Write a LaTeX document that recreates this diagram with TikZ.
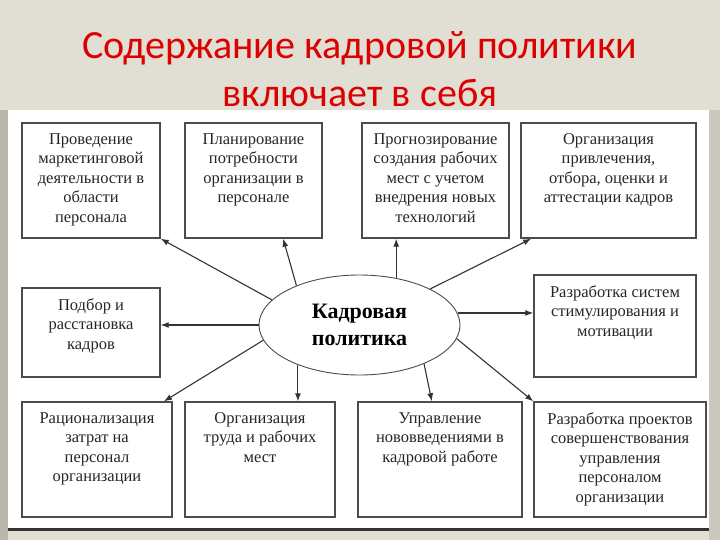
\documentclass[tikz,border=0pt]{standalone}
\usepackage{fontspec}
\setmainfont{Liberation Serif}
\newfontfamily\titlefont{Carlito}
\usetikzlibrary{positioning,shapes.geometric,shadows,arrows.meta}
\definecolor{slidebg}{RGB}{225,222,212}
\definecolor{slideedge}{RGB}{186,183,173}
\definecolor{titlered}{RGB}{220,0,0}
\begin{document}
\begin{tikzpicture}[x=1pt,y=-1pt,
        box/.style={draw=black!70, line width=1.4pt, fill=white,
            drop shadow={shadow xshift=1.2pt, shadow yshift=-1.2pt, opacity=.6}},
        boxtext/.style={align=center, inner sep=0pt, text=black!85,
            font=\fontsize{16.5}{19.5}\selectfont},
        ell/.style={ellipse, draw=black!70, line width=0.9pt, fill=white, inner sep=0pt,
            minimum width=201pt, minimum height=100pt, align=center,
            font=\bfseries\fontsize{22}{27}\selectfont},
        arr/.style={-{Latex[length=8pt,width=6pt]}, draw=black!80, line width=1.1pt}]
    \useasboundingbox (0,0) rectangle (720,540);
    \fill[slidebg] (0,0) rectangle (720,540);
    \fill[slideedge] (0,110) rectangle (8,540);
    \fill[slideedge!60!slidebg] (709,110) rectangle (720,540);
    \fill[white] (8,110) rectangle (709,528);
    \draw[black!80, line width=2.5pt] (8,529.5) -- (709,529.5);

    \node[anchor=north, align=center, inner sep=0pt, text=titlered,
        font=\titlefont\fontsize{40}{48}\selectfont] (title) at (360,31)
        {Содержание кадровой политики\\включает в себя};

    \foreach \n/\x/\y/\w/\h/\t in {
            b1/91/180.5/138/115/{Проведение\\маркетинговой\\деятельности в\\области\\персонала},
            b2/253.5/180.5/137/115/{Планирование\\потребности\\организации в\\персонале},
            b3/435.5/180.5/147/115/{Прогнозирование\\создания рабочих\\мест с учетом\\внедрения новых\\технологий},
            b4/608.5/180.5/175/115/{Организация\\привлечения,\\отбора, оценки и\\аттестации кадров},
            b5/91/332.5/138/89/{Подбор и\\расстановка\\кадров},
            b6/615/326/162/102/{Разработка систем\\стимулирования и\\мотивации},
            b7/97/459.5/150/115/{Рационализация\\затрат на\\персонал\\организации},
            b8/260/459.5/150/115/{Организация\\труда и рабочих\\мест},
            b9/440/459.5/164/115/{Управление\\нововведениями в\\кадровой работе},
            b10/620/459.5/172/115/{Разработка проектов\\совершенствования\\управления\\персоналом\\организации}} {
        \node[box, minimum width=\w pt, minimum height=\h pt] (\n) at (\x,\y) {};
        \node[boxtext, below=11pt of \n.north] (\n-t) {\t};
    }

    \node[ell] (kp) at (359.5,325) {Кадровая\\политика};

    \draw[arr] (kp.164) -- (b1.south east);
    \draw[arr] (kp.148) -- (b2.297);
    \draw[arr] (kp.52) -- (kp.52 |- b3.south);
    \draw[arr] (kp.27) -- (b4.217);
    \draw[arr] (kp.west) -- (kp.west -| b5.east);
    \draw[arr] (kp.7) -- (kp.7 -| b6.west);
    \draw[arr] (kp.189) -- (b7.41);
    \draw[arr] (kp.213) -- (kp.213 |- b8.north);
    \draw[arr] (kp.329) -- (b9.98);
    \draw[arr] (kp.352) -- (b10.north west);
\end{tikzpicture}
\end{document}
